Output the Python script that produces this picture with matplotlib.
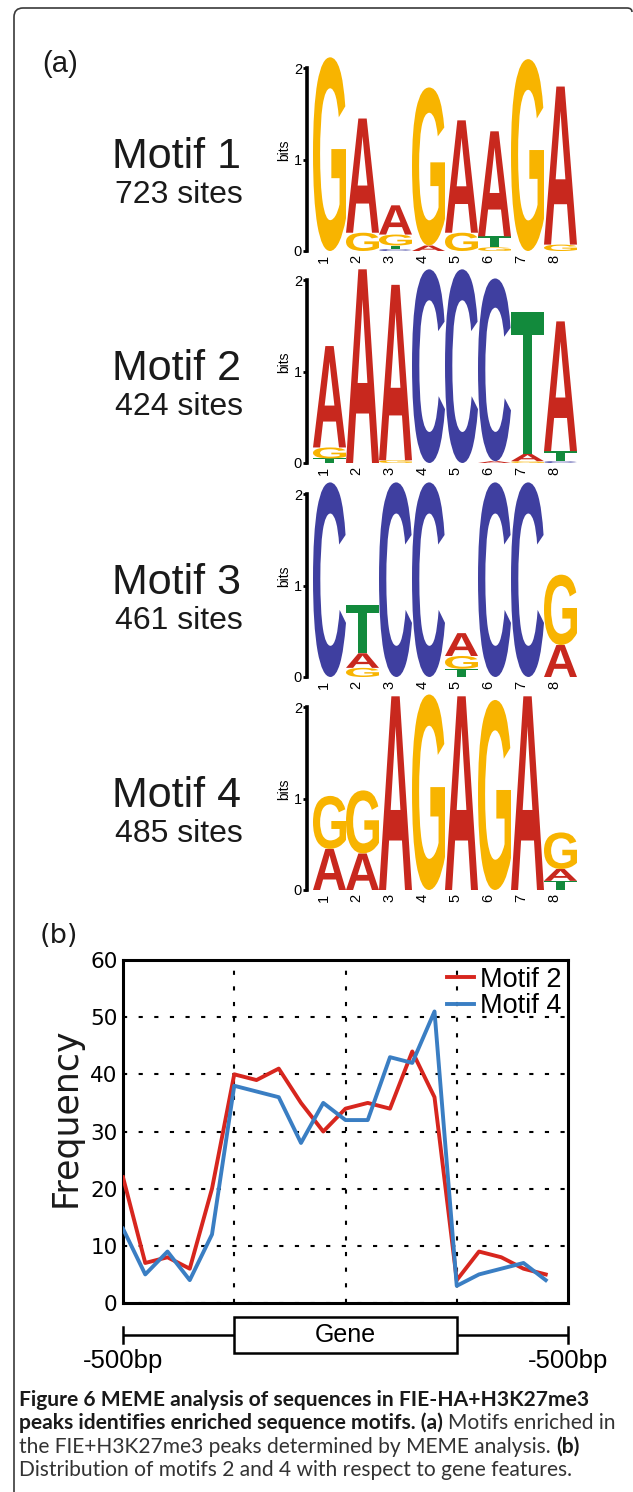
import numpy as np
import matplotlib
matplotlib.use('Agg')
import matplotlib.pyplot as plt
from matplotlib.textpath import TextPath
from matplotlib.patches import PathPatch, Rectangle
from matplotlib.path import Path
from matplotlib.font_manager import FontProperties
import matplotlib.transforms as mtrans

W, H = 633, 1492

# ---- data: panel (a), sequence logos (letter stacks bottom -> top, height in bits)
motif_names = ['Motif 1', 'Motif 2', 'Motif 3', 'Motif 4']
motif_sites = ['723 sites', '424 sites', '461 sites', '485 sites']
logo_positions = [1, 2, 3, 4, 5, 6, 7, 8]

motif1 = [
    [('G', 2.12)],
    [('G', 0.20), ('A', 1.25)],
    [('C', 0.02), ('T', 0.04), ('G', 0.12), ('A', 0.32)],
    [('A', 0.06), ('G', 1.73)],
    [('G', 0.20), ('A', 1.23)],
    [('G', 0.04), ('T', 0.12), ('A', 1.15)],
    [('G', 2.10)],
    [('G', 0.07), ('A', 1.73)],
]
motif2 = [
    [('T', 0.05), ('G', 0.12), ('A', 1.11)],
    [('A', 2.12)],
    [('G', 0.03), ('A', 1.92)],
    [('C', 2.12)],
    [('C', 2.12)],
    [('A', 0.02), ('C', 2.00)],
    [('G', 0.02), ('A', 0.08), ('T', 1.55)],
    [('C', 0.02), ('T', 0.11), ('A', 1.42)],
]
motif3 = [
    [('C', 2.13)],
    [('G', 0.10), ('A', 0.16), ('T', 0.53)],
    [('C', 2.13)],
    [('C', 2.13)],
    [('T', 0.09), ('G', 0.14), ('A', 0.25)],
    [('C', 2.13)],
    [('C', 2.13)],
    [('A', 0.35), ('G', 0.77)],
]
motif4 = [
    [('A', 0.45), ('G', 0.58)],
    [('A', 0.40), ('G', 0.69)],
    [('A', 2.12)],
    [('G', 2.14)],
    [('A', 2.12)],
    [('G', 2.08)],
    [('A', 2.12)],
    [('T', 0.10), ('A', 0.13), ('G', 0.40)],
]
motifs = [motif1, motif2, motif3, motif4]

# ---- data: panel (b), motif frequency along gene
bins = np.arange(20)
motif2_freq = [22, 7, 8, 6, 20, 40, 39, 41, 35, 30, 34, 35, 34, 44, 36, 4, 9, 8, 6, 5]
motif4_freq = [13, 5, 9, 4, 12, 38, 37, 36, 28, 35, 32, 32, 43, 42, 51, 3, 5, 6, 7, 4]
gene_start, gene_end = 5, 15
flank_label = '-500bp'

base_colors = {'A': '#c8281e', 'C': '#3f3fa0', 'G': '#f8b400', 'T': '#128a3c'}
letter_font = FontProperties(family='Liberation Sans', weight='bold')


def px(x0, y_top, w, h):
    # pixel box (from top-left) -> figure fraction rect
    return [x0 / W, 1 - (y_top + h) / H, w / W, h / H]


def draw_letter(ax, ch, x, y, w, h, color):
    tp = TextPath((0, 0), ch, size=1, prop=letter_font)
    bb = tp.get_extents()
    t = (mtrans.Affine2D().translate(-bb.x0, -bb.y0)
         .scale(w / bb.width, h / bb.height).translate(x, y))
    ax.add_patch(PathPatch(t.transform_path(tp), fc=color, ec='none', lw=0))


fig = plt.figure(figsize=(W / 100, H / 100), dpi=100)

# background axes in pixel units for frame and free text
bg = fig.add_axes([0, 0, 1, 1], zorder=-1)
bg.set_xlim(0, W)
bg.set_ylim(H, 0)
bg.axis('off')

frame = Path([(14, H), (14, 17), (14, 8), (23, 8), (627, 8), (632, 8), (632, 12)],
             [Path.MOVETO, Path.LINETO, Path.CURVE3, Path.CURVE3, Path.LINETO,
              Path.CURVE3, Path.CURVE3])
bg.add_patch(PathPatch(frame, fc='none', ec='#3a3a3a', lw=1.2))

bg.text(42, 64, '(a)', family='Liberation Sans', fontsize=21, va='center', ha='left', color='#1a1a1a')
bg.text(40, 936, '(b)', family='DejaVu Sans', fontsize=19.5, va='center', ha='left', color='#1a1a1a')

# ---- panel (a)
baselines = [251, 463, 677, 890]
for k, cols in enumerate(motifs):
    y0 = baselines[k]
    ax = fig.add_axes(px(313, y0 - 201, 264, 201))
    ax.set_xlim(0.5, 8.5)
    ax.set_ylim(0, 2.2)
    for i, stack in zip(logo_positions, cols):
        y = 0.0
        for ch, h in stack:
            draw_letter(ax, ch, i - 0.5, y, 1.0, h, base_colors[ch])
            y += h
    for s in ['top', 'right', 'bottom']:
        ax.spines[s].set_visible(False)
    ax.spines['left'].set_bounds(0, 2)
    ax.spines['left'].set_position(('outward', 4))
    ax.spines['left'].set_linewidth(2.6)
    ax.set_yticks([0, 1, 2])
    ax.tick_params(axis='y', direction='out', length=3, width=2, labelsize=10.5, pad=1)
    ax.set_xticks(logo_positions)
    ax.set_xticklabels([str(p) for p in logo_positions], rotation=90)
    ax.tick_params(axis='x', length=0, labelsize=10.5, pad=3)
    off = mtrans.ScaledTranslation(-6 / 100, 0, fig.dpi_scale_trans)
    for lab in ax.get_xticklabels():
        lab.set_transform(lab.get_transform() + off)
    for lab in ax.get_xticklabels() + ax.get_yticklabels():
        lab.set_family('Liberation Sans')
    ax.set_ylabel('bits', family='Liberation Sans', fontsize=10, labelpad=2)
    ax.patch.set_visible(False)

    bg.text(177, y0 - 94, motif_names[k], family='Liberation Sans', fontsize=31,
            ha='center', va='center', color='#1a1a1a')
    bg.text(179, y0 - 56, motif_sites[k], family='Liberation Sans', fontsize=23,
            ha='center', va='center', color='#1a1a1a')

# ---- panel (b)
ax = fig.add_axes(px(123, 960, 445, 343))
ax.plot(bins, motif2_freq, color='#d7261e', lw=2.8, label='Motif 2', zorder=3)
ax.plot(bins, motif4_freq, color='#3a7ec3', lw=2.8, label='Motif 4', zorder=3)
ax.set_xlim(0, 20)
ax.set_ylim(0, 60)
ax.set_xticks([5, 10, 15])
ax.set_xticklabels([])
ax.set_yticks(np.arange(0, 61, 10))
ax.tick_params(length=0, labelsize=15.5, pad=4)
ax.grid(True, color='black', linestyle=(0, (2.0, 5.5)), lw=1.5)
for s in ax.spines.values():
    s.set_linewidth(2.2)
leg = ax.legend(loc='upper right', frameon=False,
                prop=FontProperties(family='Liberation Sans', size=19.5),
                handlelength=1.0, handletextpad=0.2, labelspacing=0.02,
                borderaxespad=0.15, borderpad=0.1)
bg.text(66, 1117, 'Frequency', family='DejaVu Sans', fontsize=25, rotation=90,
        ha='center', va='center', color='#1a1a1a')

# gene diagram under the axis, sharing the same x scale
gx = fig.add_axes(px(123, 1310, 445, 60))
gx.set_xlim(0, 20)
gx.set_ylim(60, 0)
gx.axis('off')
gx.plot([0, gene_start], [25, 25], color='black', lw=1.8, solid_capstyle='butt')
gx.plot([gene_end, 20], [25, 25], color='black', lw=1.8, solid_capstyle='butt')
gx.plot([0, 0], [17, 33], color='black', lw=1.8, clip_on=False)
gx.plot([20, 20], [17, 33], color='black', lw=1.8, clip_on=False)
gx.add_patch(Rectangle((gene_start, 7), gene_end - gene_start, 36, fc='white',
                       ec='black', lw=1.8))
gx.text((gene_start + gene_end) / 2, 25, 'Gene', family='Liberation Sans', fontsize=18,
        ha='center', va='center')
for xpos in [0, 20]:
    gx.text(xpos, 51, flank_label, family='Liberation Sans', fontsize=18.5,
            ha='center', va='center', clip_on=False)

# ---- caption
cap_font = 'Lato'
cap_size = 15.1
renderer = fig.canvas.get_renderer()


def text_w(s, bold):
    t = bg.text(0, 0, s, family=cap_font, fontsize=cap_size,
                fontweight='bold' if bold else 'normal')
    w = t.get_window_extent(renderer=renderer).width
    t.remove()
    return w


space_w = text_w('a a', False) - text_w('aa', False)
caption = [
    [('Figure 6 MEME analysis of sequences in FIE-HA+H3K27me3', True)],
    [('peaks identifies enriched sequence motifs. (a)', True), ('Motifs enriched in', False)],
    [('the FIE+H3K27me3 peaks determined by MEME analysis.', False), ('(b)', True)],
    [('Distribution of motifs 2 and 4 with respect to gene features.', False)],
]
for li, runs in enumerate(caption):
    x = 19
    y = 1406 + li * 23.3
    for s, bold in runs:
        bg.text(x, y, s, family=cap_font, fontsize=cap_size, va='baseline', ha='left',
                fontweight='bold' if bold else 'normal',
                color='#1a1a1a' if bold else '#333333')
        x += text_w(s, bold) + space_w

fig.savefig('out.png', dpi=100)
